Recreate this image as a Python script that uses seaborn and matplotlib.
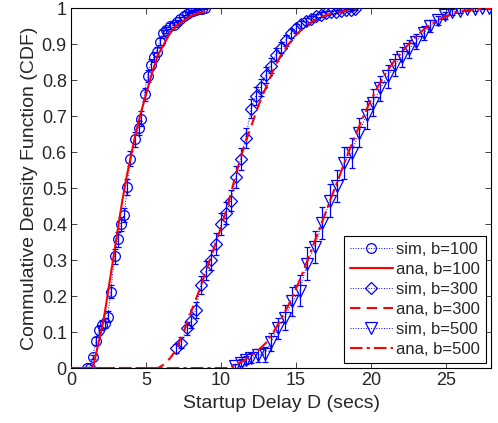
import matplotlib
matplotlib.use("Agg")
import matplotlib.pyplot as plt
import seaborn as sns
import pandas as pd
from matplotlib.lines import Line2D

# ---- data ----
sim100_x = [1.05, 1.25, 1.45, 1.65, 1.85, 2.05, 2.25, 2.45, 2.65, 2.9, 3.1, 3.3, 3.55, 3.75, 3.95, 4.25,
            4.5, 4.65, 4.9, 5.1, 5.3, 5.5, 5.7, 5.9, 6.15, 6.35, 6.6, 6.85, 7.05, 7.25, 7.5, 7.7, 7.9,
            8.1, 8.3, 8.5, 8.7, 8.9]
sim100_y = [0.0, 0.0, 0.03, 0.075, 0.105, 0.12, 0.125, 0.143, 0.212, 0.31, 0.357, 0.4, 0.425, 0.502,
            0.582, 0.635, 0.666, 0.693, 0.761, 0.811, 0.843, 0.863, 0.879, 0.907, 0.93, 0.94, 0.95,
            0.953, 0.96, 0.97, 0.978, 0.984, 0.988, 0.992, 0.995, 0.997, 0.998, 0.999]
sim100_e = [0.003, 0.004, 0.006, 0.01, 0.012, 0.014, 0.015, 0.016, 0.018, 0.02, 0.02, 0.02, 0.02, 0.022,
            0.02, 0.02, 0.02, 0.02, 0.018, 0.016, 0.015, 0.014, 0.012, 0.01, 0.009, 0.008, 0.008,
            0.007, 0.006, 0.005, 0.004, 0.004, 0.003, 0.003, 0.002, 0.002, 0.002, 0.001]

ana100_x = [0, 1.35, 1.5, 1.7, 2.0, 2.2, 2.5, 2.8, 3.1, 3.4, 3.7, 4.0, 4.3, 4.6, 5.0, 5.4, 5.8, 6.2,
            6.6, 7.0, 7.5, 8.0, 8.5, 8.9]
ana100_y = [0, 0, 0.008, 0.045, 0.1, 0.14, 0.22, 0.3, 0.38, 0.46, 0.53, 0.59, 0.65, 0.7, 0.76, 0.82,
            0.87, 0.9, 0.93, 0.95, 0.965, 0.978, 0.986, 0.99]

sim300_x = [7.0, 7.35, 7.7, 8.0, 8.3, 8.65, 9.0, 9.3, 9.65, 10.0, 10.3, 10.65, 11.0, 11.3, 11.65, 12.0,
            12.3, 12.65, 13.0, 13.3, 13.65, 14.0, 14.3, 14.65, 15.0, 15.3, 15.65, 16.0, 16.3, 16.65,
            17.0, 17.3, 17.65, 18.0, 18.3, 18.65, 18.95]
sim300_y = [0.055, 0.07, 0.11, 0.13, 0.16, 0.23, 0.27, 0.30, 0.345, 0.40, 0.43, 0.465, 0.53, 0.58,
            0.64, 0.72, 0.755, 0.78, 0.815, 0.84, 0.87, 0.89, 0.91, 0.93, 0.944, 0.955, 0.963, 0.97,
            0.977, 0.982, 0.986, 0.988, 0.99, 0.992, 0.994, 0.995, 0.996]
sim300_e = [0.012, 0.015, 0.018, 0.02, 0.022, 0.025, 0.026, 0.028, 0.03, 0.03, 0.03, 0.03, 0.03, 0.03,
            0.028, 0.026, 0.025, 0.024, 0.022, 0.02, 0.018, 0.016, 0.015, 0.013, 0.012, 0.01, 0.009,
            0.008, 0.007, 0.006, 0.005, 0.004, 0.004, 0.003, 0.003, 0.002, 0.002]

ana300_x = [0, 5.8, 6.2, 6.6, 7.0, 7.5, 8.0, 8.5, 9.0, 9.5, 10.0, 10.5, 11.0, 11.5, 12.0, 12.5, 13.0,
            13.5, 14.0, 14.5, 15.0, 15.5, 16.0, 16.5, 17.0, 17.5, 18.0, 18.5, 19.0]
ana300_y = [0, 0, 0.01, 0.027, 0.05, 0.1, 0.155, 0.21, 0.27, 0.33, 0.39, 0.46, 0.54, 0.61, 0.67, 0.73,
            0.78, 0.83, 0.87, 0.9, 0.925, 0.945, 0.96, 0.972, 0.98, 0.986, 0.99, 0.993, 0.995]

sim500_x = [10.9, 11.3, 11.65, 12.0, 12.45, 12.9, 13.35, 13.8, 14.25, 14.75, 15.25, 15.75, 16.25, 16.75,
            17.25, 17.7, 18.2, 18.7, 19.2, 19.7, 20.15, 20.6, 21.1, 21.6, 22.05, 22.5, 23.0, 23.5,
            23.95, 24.45, 24.95, 25.4, 25.9, 26.4, 26.95, 27.4, 27.85]
sim500_y = [0.005, 0.015, 0.022, 0.028, 0.036, 0.038, 0.073, 0.11, 0.14, 0.185, 0.215, 0.29, 0.337,
            0.402, 0.465, 0.506, 0.569, 0.598, 0.654, 0.703, 0.737, 0.777, 0.81, 0.842, 0.865, 0.885,
            0.907, 0.93, 0.95, 0.966, 0.98, 0.988, 0.993, 0.996, 0.997, 0.999, 0.999]
sim500_e = [0.006, 0.01, 0.012, 0.015, 0.018, 0.02, 0.025, 0.03, 0.035, 0.04, 0.042, 0.045, 0.045,
            0.045, 0.045, 0.045, 0.045, 0.042, 0.04, 0.04, 0.038, 0.035, 0.033, 0.03, 0.028, 0.025,
            0.022, 0.02, 0.016, 0.013, 0.01, 0.008, 0.006, 0.005, 0.004, 0.003, 0.002]

ana500_x = [0, 10.5, 11, 11.5, 12, 12.5, 13, 13.5, 14, 14.5, 15, 15.5, 16, 16.5, 17, 17.5, 18, 18.5,
            19, 19.5, 20, 20.5, 21, 21.5, 22, 22.5, 23, 23.5, 24, 24.5, 25, 25.5, 26, 26.5, 27, 27.5, 28]
ana500_y = [0, 0, 0.01, 0.02, 0.035, 0.05, 0.07, 0.1, 0.135, 0.175, 0.22, 0.27, 0.325, 0.38, 0.435,
            0.49, 0.545, 0.6, 0.65, 0.7, 0.745, 0.785, 0.82, 0.85, 0.875, 0.9, 0.92, 0.94, 0.955,
            0.967, 0.977, 0.984, 0.99, 0.994, 0.996, 0.998, 0.999]

x_ticks = [0, 5, 10, 15, 20, 25]
y_ticks = [0, 0.1, 0.2, 0.3, 0.4, 0.5, 0.6, 0.7, 0.8, 0.9, 1]
y_tick_labels = ["0", "0.1", "0.2", "0.3", "0.4", "0.5", "0.6", "0.7", "0.8", "0.9", "1"]
legend_labels = ["sim, b=100", "ana, b=100", "sim, b=300", "ana, b=300", "sim, b=500", "ana, b=500"]

# ---- style ----
sns.set_style("ticks")
plt.rcParams["font.family"] = ["Liberation Sans", "DejaVu Sans"]
BLUE = "#0000ff"
RED = "#ff0000"

fig = plt.figure(figsize=(4.98, 4.23), dpi=100)
ax = fig.add_axes([0.1426, 0.13, 0.8434, 0.851])

sims = [(sim100_x, sim100_y, sim100_e, "o", 7),
        (sim300_x, sim300_y, sim300_e, "D", 6),
        (sim500_x, sim500_y, sim500_e, "v", 8)]
anas = [(ana100_x, ana100_y, "-"), (ana300_x, ana300_y, (0, (5, 3))), (ana500_x, ana500_y, (0, (6, 2, 1.5, 2)))]

# errorbars
for xs, ys, es, m, ms in sims:
    ax.errorbar(xs, ys, yerr=es, fmt="none", ecolor=BLUE, elinewidth=0.9, capsize=2.5,
                capthick=0.9, zorder=2)

# simulation markers + dotted connectors
for xs, ys, es, m, ms in sims:
    df = pd.DataFrame({"x": xs, "y": ys})
    sns.lineplot(data=df, x="x", y="y", ax=ax, color=BLUE, linestyle=":", linewidth=0.7,
                 marker=m, markersize=ms, markerfacecolor="none", markeredgecolor=BLUE,
                 markeredgewidth=0.9, sort=False, estimator=None, zorder=3)

# analytic curves
for xs, ys, ls in anas:
    df = pd.DataFrame({"x": xs, "y": ys})
    sns.lineplot(data=df, x="x", y="y", ax=ax, color=RED, linestyle=ls, linewidth=1.5,
                 sort=False, estimator=None, zorder=4)

ax.set_xlim(0, 28)
ax.set_ylim(0, 1)
ax.set_xticks(x_ticks)
ax.set_xticklabels([str(t) for t in x_ticks])
ax.set_yticks(y_ticks)
ax.set_yticklabels(y_tick_labels)
ax.tick_params(direction="in", top=True, right=True, length=4, width=0.6, labelsize=13, pad=3)
for s in ax.spines.values():
    s.set_linewidth(0.8)
    s.set_color("black")
ax.set_xlabel("Startup Delay D (secs)", fontsize=14, labelpad=4)
ax.set_ylabel("Commulative Density Function (CDF)", fontsize=14, labelpad=3)

handles = [
    Line2D([], [], color=BLUE, linestyle=":", linewidth=0.7, marker="o", markersize=7,
           markerfacecolor="none", markeredgewidth=0.9),
    Line2D([], [], color=RED, linestyle="-", linewidth=1.5),
    Line2D([], [], color=BLUE, linestyle=":", linewidth=0.7, marker="D", markersize=6,
           markerfacecolor="none", markeredgewidth=0.9),
    Line2D([], [], color=RED, linestyle=(0, (5, 3)), linewidth=1.5),
    Line2D([], [], color=BLUE, linestyle=":", linewidth=0.7, marker="v", markersize=8,
           markerfacecolor="none", markeredgewidth=0.9),
    Line2D([], [], color=RED, linestyle=(0, (6, 2, 1.5, 2)), linewidth=1.5),
]
leg = ax.legend(handles, legend_labels, loc="lower right", fontsize=12, frameon=True,
                fancybox=False, edgecolor="black", framealpha=1, borderaxespad=0.3,
                handlelength=2.6, handletextpad=0.2, labelspacing=0.3, borderpad=0.35)
leg.get_frame().set_linewidth(0.8)

fig.savefig("out.png", dpi=100)
